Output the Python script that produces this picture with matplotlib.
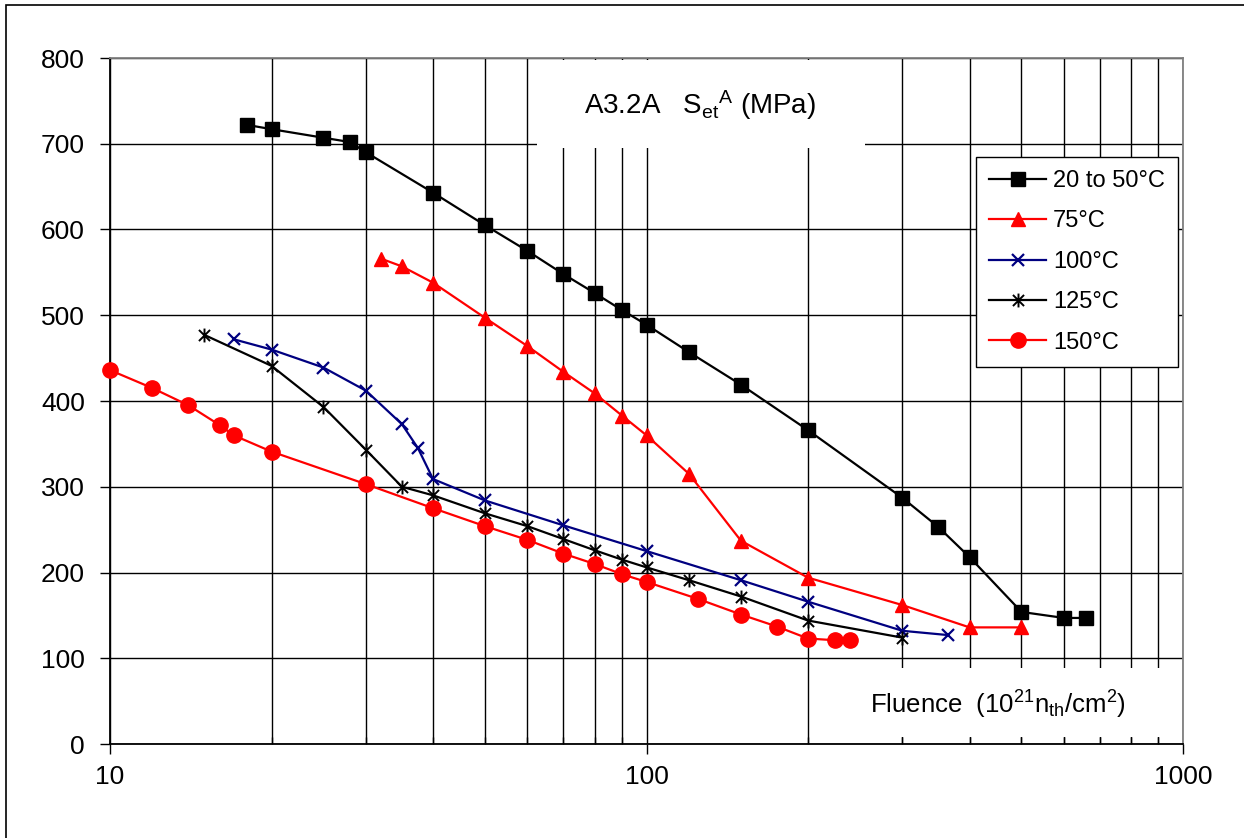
import matplotlib
matplotlib.use('Agg')
import matplotlib.pyplot as plt
from matplotlib import rcParams
from matplotlib.path import Path
from matplotlib.patches import Rectangle
from matplotlib.ticker import FixedLocator, LogLocator, NullFormatter, FixedFormatter

rcParams['font.family'] = ['Liberation Sans', 'DejaVu Sans']
rcParams['mathtext.default'] = 'regular'

# fluence (10^21 n_th/cm^2) and S_et^A (MPa)
fl_20_50 = [18, 20, 25, 28, 30, 40, 50, 60, 70, 80, 90, 100, 120, 150, 200, 300, 350, 400, 500, 600, 660]
s_20_50 = [722, 717, 707, 702, 690, 643, 605, 575, 548, 526, 506, 489, 457, 419, 366, 287, 253, 218, 154, 147, 147]

fl_75 = [32, 35, 40, 50, 60, 70, 80, 90, 100, 120, 150, 200, 300, 400, 500]
s_75 = [566, 557, 538, 497, 464, 434, 409, 383, 360, 315, 237, 194, 162, 136, 136]

fl_100 = [17, 20, 25, 30, 35, 37.5, 40, 50, 70, 100, 150, 200, 300, 365]
s_100 = [472, 460, 439, 412, 373, 345, 309, 284, 255, 225, 191, 166, 132, 127]

fl_125 = [15, 20, 25, 30, 35, 40, 50, 60, 70, 80, 90, 100, 120, 150, 200, 300]
s_125 = [477, 441, 393, 343, 300, 290, 269, 254, 239, 226, 215, 206, 191, 172, 144, 124]

fl_150 = [10, 12, 14, 16, 17, 20, 30, 40, 50, 60, 70, 80, 90, 100, 125, 150, 175, 200, 225, 240]
s_150 = [436, 415, 395, 372, 360, 341, 303, 275, 254, 238, 222, 210, 198, 189, 169, 151, 137, 123, 121, 121]

labels = ['20 to 50°C', '75°C', '100°C', '125°C', '150°C']
x_ticks = [10, 100, 1000]
y_ticks = [0, 100, 200, 300, 400, 500, 600, 700, 800]

# excel-like star: vertical bar plus an x
star = Path([(0, -1), (0, 1), (-0.8, -0.8), (0.8, 0.8), (-0.8, 0.8), (0.8, -0.8)],
            [Path.MOVETO, Path.LINETO, Path.MOVETO, Path.LINETO, Path.MOVETO, Path.LINETO])

fig = plt.figure(figsize=(12.44, 8.38), dpi=100)
ax = fig.add_axes([110 / 1244, 1 - 744 / 838, 1073 / 1244, 686 / 838])

# outer frame (only left/top visible in the original crop)
fig.patches.append(Rectangle((6 / 1244, -0.1), 1.2, 1.1 - 5 / 838, transform=fig.transFigure,
                             fill=False, edgecolor='black', linewidth=1.2))

lw = 1.6
ax.plot(fl_20_50, s_20_50, color='black', lw=lw, marker='s', ms=10, label=labels[0], zorder=5, clip_on=False)
ax.plot(fl_75, s_75, color='red', lw=lw, marker='^', ms=10, label=labels[1], zorder=5, clip_on=False)
ax.plot(fl_100, s_100, color='#000080', lw=lw, marker='x', ms=9, mew=1.6, label=labels[2], zorder=5, clip_on=False)
ax.plot(fl_125, s_125, color='black', lw=lw, marker=star, ms=10, mew=1.4, label=labels[3], zorder=5, clip_on=False)
ax.plot(fl_150, s_150, color='red', lw=lw, marker='o', ms=11, label=labels[4], zorder=5, clip_on=False)

ax.set_xscale('log')
ax.set_xlim(10, 1000)
ax.set_ylim(0, 800)

ax.xaxis.set_major_locator(FixedLocator(x_ticks))
ax.xaxis.set_major_formatter(FixedFormatter([str(t) for t in x_ticks]))
ax.xaxis.set_minor_locator(LogLocator(base=10, subs=range(2, 10)))
ax.xaxis.set_minor_formatter(NullFormatter())
ax.set_yticks(y_ticks)

ax.grid(True, which='both', axis='x', color='black', lw=1.0, zorder=0)
ax.grid(True, which='major', axis='y', color='black', lw=1.0, zorder=0)
ax.set_axisbelow(True)

ax.tick_params(axis='y', direction='out', length=7, width=1, labelsize=19, pad=11)
ax.tick_params(axis='x', which='major', direction='out', length=7, width=1, labelsize=19, pad=8)
ax.tick_params(axis='x', which='minor', direction='in', length=5, width=1)

for side in ['left', 'bottom']:
    ax.spines[side].set_color('black')
    ax.spines[side].set_linewidth(1.3)
for side in ['top', 'right']:
    ax.spines[side].set_color('#808080')
    ax.spines[side].set_linewidth(1.3)

# white boxes behind the title and axis label, hiding the grid there
ax.add_patch(Rectangle((0.398, 0.869), 0.306, 0.128, transform=ax.transAxes,
                       facecolor='white', edgecolor='none', zorder=1))
ax.add_patch(Rectangle((0.672, 0.010), 0.326, 0.101, transform=ax.transAxes,
                       facecolor='white', edgecolor='none', zorder=1))

ax.text(0.55, 0.931, 'A3.2A   S$_{et}$$^{A}$ (MPa)', transform=ax.transAxes,
        ha='center', va='center', fontsize=20, zorder=2)
ax.text(0.708, 0.057, 'Fluence  (10$^{21}$n$_{th}$/cm$^{2}$)', transform=ax.transAxes,
        ha='left', va='center', fontsize=18.5, zorder=2)

leg = ax.legend(loc='upper right', bbox_to_anchor=(0.9953, 0.8557), borderaxespad=0,
                fontsize=17, frameon=True, fancybox=False, framealpha=1,
                edgecolor='black', handlelength=2.4, labelspacing=0.78,
                borderpad=0.55, handletextpad=0.3)
leg.get_frame().set_linewidth(1.0)
leg.set_zorder(10)

fig.savefig('out.png', dpi=100)
